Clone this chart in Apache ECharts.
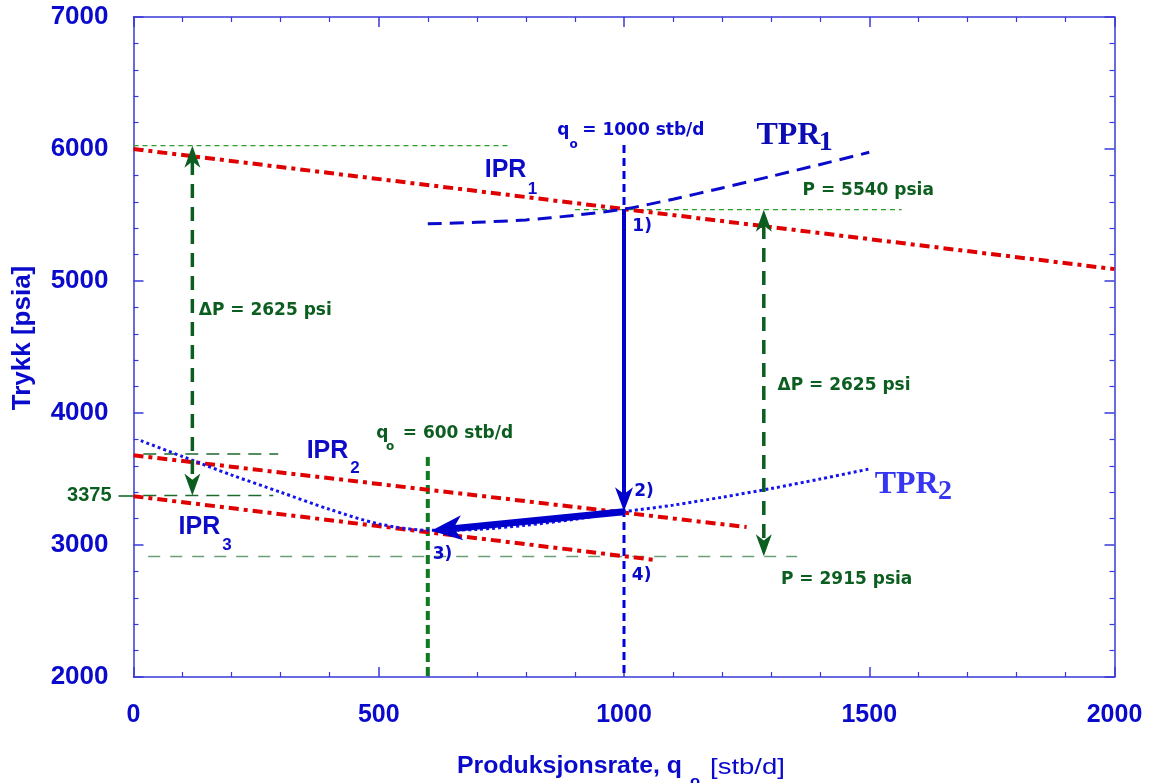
<!DOCTYPE html>
<html>
<head>
<meta charset="utf-8">
<title>IPR / TPR</title>
<script src="https://cdn.jsdelivr.net/npm/echarts@6/dist/echarts.min.js"></script>
<style>
  html, body { margin: 0; padding: 0; background: #fff; }
  #chart { width: 1156px; height: 783px; }
</style>
</head>
<body>
<div id="chart"></div>
<script>
// axis ranges / ticks
const xTicks = [0, 500, 1000, 1500, 2000]
const yTicks = [2000, 3000, 4000, 5000, 6000, 7000]
const extraYTick = [3375]

// IPR lines (q [stb/d], P [psia])
const ipr1 = [[0, 6000], [2000, 5090]]
const ipr2 = [[0, 3680], [1250, 3136]]
const ipr3 = [[0, 3370], [1060, 2888]]

// TPR curves
const tpr1Q = [600, 700, 800, 900, 1000, 1100, 1200, 1300, 1400, 1500]
const tpr1P = [5433, 5445, 5463, 5498, 5545, 5620, 5705, 5793, 5883, 5975]
const tpr2Q = [15, 100, 200, 300, 400, 500, 600, 700, 800, 900, 1000, 1100, 1200, 1300, 1400, 1500]
const tpr2P = [3790, 3670, 3530, 3400, 3270, 3160, 3112, 3118, 3150, 3195, 3252, 3302, 3362, 3428, 3500, 3576]

// helper lines
const guideTop = [[0, 6025], [768, 6025]]
const guide5540 = [[900, 5540], [1566, 5540]]
const guide3690 = [[20, 3690], [295, 3690]]
const guide3375 = [[20, 3375], [285, 3375]]
const guide2915 = [[30, 2912], [1353, 2912]]
const q1000Line = [[1000, 6030], [1000, 2000]]
const q600Line = [[600, 3667], [600, 2000]]

// arrows (from, to)
const dpLeft = [[120, 6025], [120, 3375]]
const dpRight = [[1285, 5540], [1285, 2915]]
const stepDown = [[1000, 5545], [1000, 3255]]
const stepLeft = [[1000, 3252], [607, 3108]]

// annotations: text, q, P, style
const notes = [
  ['q', 865, 6137, 'blue'], ['o', 890, 6031, 'blueSub'], ['= 1000 stb/d', 916, 6137, 'blue'],
  ['TPR', 1271, 6099, 'tpr1'], ['1', 1398, 6042, 'tpr1Sub'],
  ['IPR', 717, 5834, 'ipr'], ['1', 805, 5690, 'iprSub'],
  ['P = 5540 psia', 1365, 5685, 'green'],
  ['1)', 1018, 5410, 'blue'],
  ['\u0394P = 2625 psi', 134, 4774, 'green'],
  ['\u0394P = 2625 psi', 1314, 4201, 'green'],
  ['q', 496, 3843, 'green'], ['o', 516, 3741, 'greenSub'], ['= 600 stb/d', 550, 3843, 'green'],
  ['IPR', 354, 3709, 'ipr'], ['2', 443, 3578, 'iprSub'],
  ['TPR', 1512, 3451, 'tpr2'], ['2', 1641, 3397, 'tpr2Sub'],
  ['2)', 1022, 3404, 'blue'],
  ['IPR', 93, 3135, 'ipr'], ['3', 182, 2995, 'iprSub'],
  ['3)', 611, 2927, 'blue'],
  ['4)', 1017, 2761, 'blue'],
  ['P = 2915 psia', 1321, 2738, 'green']
]

const SANS = 'Liberation Sans, Arial, sans-serif'
const DV = 'DejaVu Sans, sans-serif'
const SERIF = 'Liberation Serif, Times New Roman, serif'
const BLUE = '#0a0acc'
const AXIS = '#3a3ad6'
const RED = '#e00000'
const DKGREEN = '#0b5e1f'

const textStyles = {
  blue: { color: BLUE, fontSize: 17, fontWeight: 'bold', fontFamily: DV },
  blueSub: { color: BLUE, fontSize: 12, fontWeight: 'bold', fontFamily: DV },
  green: { color: DKGREEN, fontSize: 17, fontWeight: 'bold', fontFamily: DV },
  greenSub: { color: DKGREEN, fontSize: 12, fontWeight: 'bold', fontFamily: DV },
  ipr: { color: '#0c0cc8', fontSize: 25, fontWeight: 'bold', fontFamily: SANS },
  iprSub: { color: '#0c0cc8', fontSize: 17, fontWeight: 'bold', fontFamily: SANS },
  tpr1: { color: '#0c0cb4', fontSize: 32, fontWeight: 'bold', fontFamily: SERIF },
  tpr1Sub: { color: '#0c0cb4', fontSize: 28, fontWeight: 'bold', fontFamily: SERIF },
  tpr2: { color: '#3535f2', fontSize: 32, fontWeight: 'bold', fontFamily: SERIF },
  tpr2Sub: { color: '#3535f2', fontSize: 28, fontWeight: 'bold', fontFamily: SERIF }
}

const zip = (a, b) => a.map((v, i) => [v, b[i]])

const seg = (data, color, width, type, z, smooth) => ({
  type: 'line', data, symbol: 'none', silent: true, z: z || 2, smooth: smooth || false,
  lineStyle: { color, width, type }
})

// arrow drawn in pixel space from data coords, stealth-shaped head(s)
const arrow = (pts, color, width, dash, both, w, h) => ({
  type: 'custom', silent: true, z: 4,
  data: [[pts[0][0], pts[0][1], pts[1][0], pts[1][1]]],
  encode: { x: [0, 2], y: [1, 3] },
  renderItem: (params, api) => {
    const a = api.coord([api.value(0), api.value(1)])
    const b = api.coord([api.value(2), api.value(3)])
    const len = Math.hypot(b[0] - a[0], b[1] - a[1])
    const ux = (b[0] - a[0]) / len
    const uy = (b[1] - a[1]) / len
    const head = (tip, dx, dy) => {
      const nx = -dy, ny = dx
      const bx = tip[0] - dx * h, by = tip[1] - dy * h
      return {
        type: 'polygon',
        shape: { points: [
          tip,
          [bx + nx * w / 2, by + ny * w / 2],
          [tip[0] - dx * h * 0.72, tip[1] - dy * h * 0.72],
          [bx - nx * w / 2, by - ny * w / 2]
        ] },
        style: { fill: color }
      }
    }
    const s = both ? [a[0] + ux * h * 0.7, a[1] + uy * h * 0.7] : a
    const e = [b[0] - ux * h * 0.7, b[1] - uy * h * 0.7]
    const children = [
      {
        type: 'line',
        shape: { x1: s[0], y1: s[1], x2: e[0], y2: e[1] },
        style: { stroke: color, lineWidth: width, lineDash: dash }
      },
      head(b, ux, uy)
    ]
    if (both) children.push(head(a, -ux, -uy))
    return { type: 'group', children }
  }
})

const tickFont = { color: BLUE, fontWeight: 'bold', fontFamily: SANS, formatter: v => String(v) }

const xBase = {
  type: 'value', min: xTicks[0], max: xTicks[xTicks.length - 1], interval: 500,
  axisLine: { show: true, onZero: false, lineStyle: { color: AXIS, width: 1.5 } },
  axisTick: { show: true, inside: true, length: 10, lineStyle: { color: AXIS, width: 1.5 } },
  minorTick: { show: true, splitNumber: 5, length: 5, lineStyle: { color: AXIS, width: 1.2 } },
  splitLine: { show: false }
}
const yBase = {
  type: 'value', min: yTicks[0], max: yTicks[yTicks.length - 1], interval: 1000,
  axisLine: { show: true, onZero: false, lineStyle: { color: AXIS, width: 1.5 } },
  axisTick: { show: true, inside: true, length: 10, lineStyle: { color: AXIS, width: 1.5 } },
  minorTick: { show: true, splitNumber: 5, length: 5, lineStyle: { color: AXIS, width: 1.2 } },
  splitLine: { show: false }
}

const chart = echarts.init(document.getElementById('chart'))

chart.setOption({
  animation: false,
  backgroundColor: '#fff',
  grid: { left: 133.5, right: 41.5, top: 17, bottom: 106, outerBoundsMode: 'none' },
  xAxis: [
    Object.assign({}, xBase, { position: 'bottom', axisLabel: Object.assign({ margin: 26, fontSize: 25 }, tickFont) }),
    Object.assign({}, xBase, { position: 'top', axisLabel: { show: false } })
  ],
  yAxis: [
    Object.assign({}, yBase, { position: 'left', axisLabel: Object.assign({ margin: 25, fontSize: 26 }, tickFont) }),
    Object.assign({}, yBase, { position: 'right', axisLabel: { show: false } }),
    {
      type: 'value', min: yTicks[0], max: yTicks[yTicks.length - 1], position: 'left',
      axisLine: { show: false },
      axisTick: { show: true, inside: false, length: 15, customValues: extraYTick, lineStyle: { color: DKGREEN, width: 1.5 } },
      axisLabel: {
        show: true, customValues: extraYTick, margin: 22, color: DKGREEN,
        fontSize: 20, fontWeight: 'bold', fontFamily: SANS, formatter: v => String(v)
      },
      minorTick: { show: false },
      splitLine: { show: false }
    }
  ],
  graphic: [
    {
      type: 'text', x: 23, y: 338, rotation: Math.PI / 2,
      style: { text: 'Trykk [psia]', fill: BLUE, font: 'bold 26px ' + SANS, align: 'center', verticalAlign: 'middle' }
    },
    {
      type: 'text', x: 457, y: 767, scaleX: 1.08,
      style: { text: 'Produksjonsrate, q', fill: BLUE, font: 'bold 23px ' + SANS, align: 'left', verticalAlign: 'middle' }
    },
    {
      type: 'text', x: 690, y: 782, scaleX: 1.1,
      style: { text: 'o', fill: BLUE, font: 'bold 15px ' + SANS, align: 'left', verticalAlign: 'middle' }
    },
    {
      type: 'text', x: 710, y: 768, scaleX: 1.25,
      style: { text: '[stb/d]', fill: BLUE, font: '22px ' + SANS, align: 'left', verticalAlign: 'middle' }
    }
  ],
  series: [
    seg(guideTop, '#2c9c2c', 1.2, [5, 4], 1),
    seg(guide5540, '#2c9c2c', 1.2, [5, 4], 1),
    seg(guide3690, '#1c6a2c', 1.5, [13, 8], 1),
    seg(guide3375, '#1c6a2c', 1.5, [13, 8], 1),
    seg(guide2915, '#6a9e76', 1.5, [12, 10], 1),
    seg(q1000Line, '#0000dd', 3, [8, 5], 2),
    seg(q600Line, '#0f7a1f', 4, [9, 5], 2),
    seg(ipr1, RED, 4, [10, 5, 4, 5], 3),
    seg(ipr2, RED, 4, [10, 5, 4, 5], 3),
    seg(ipr3, RED, 4, [10, 5, 4, 5], 3),
    seg(zip(tpr1Q, tpr1P), '#0a0acc', 3, [14, 8], 3, 0.3),
    seg(zip(tpr2Q, tpr2P), '#1414f0', 3, [3, 3], 3, 0.3),
    arrow(dpLeft, DKGREEN, 3.5, [14, 9], true, 16, 22),
    arrow(dpRight, DKGREEN, 3.5, [14, 9], true, 16, 22),
    arrow(stepDown, '#0000cc', 4, null, false, 18, 24),
    arrow(stepLeft, '#0000cc', 7, null, false, 25, 31),
    {
      type: 'scatter', silent: true, z: 6, symbolSize: 1,
      itemStyle: { color: 'rgba(0,0,0,0)', opacity: 1 },
      data: notes.map(([text, q, p, key]) => ({
        value: [q, p],
        label: Object.assign({
          show: true, formatter: text, position: [0, 0], align: 'left', verticalAlign: 'middle',
          opacity: 1, textBorderWidth: 0
        }, textStyles[key])
      }))
    }
  ]
})
</script>
</body>
</html>
